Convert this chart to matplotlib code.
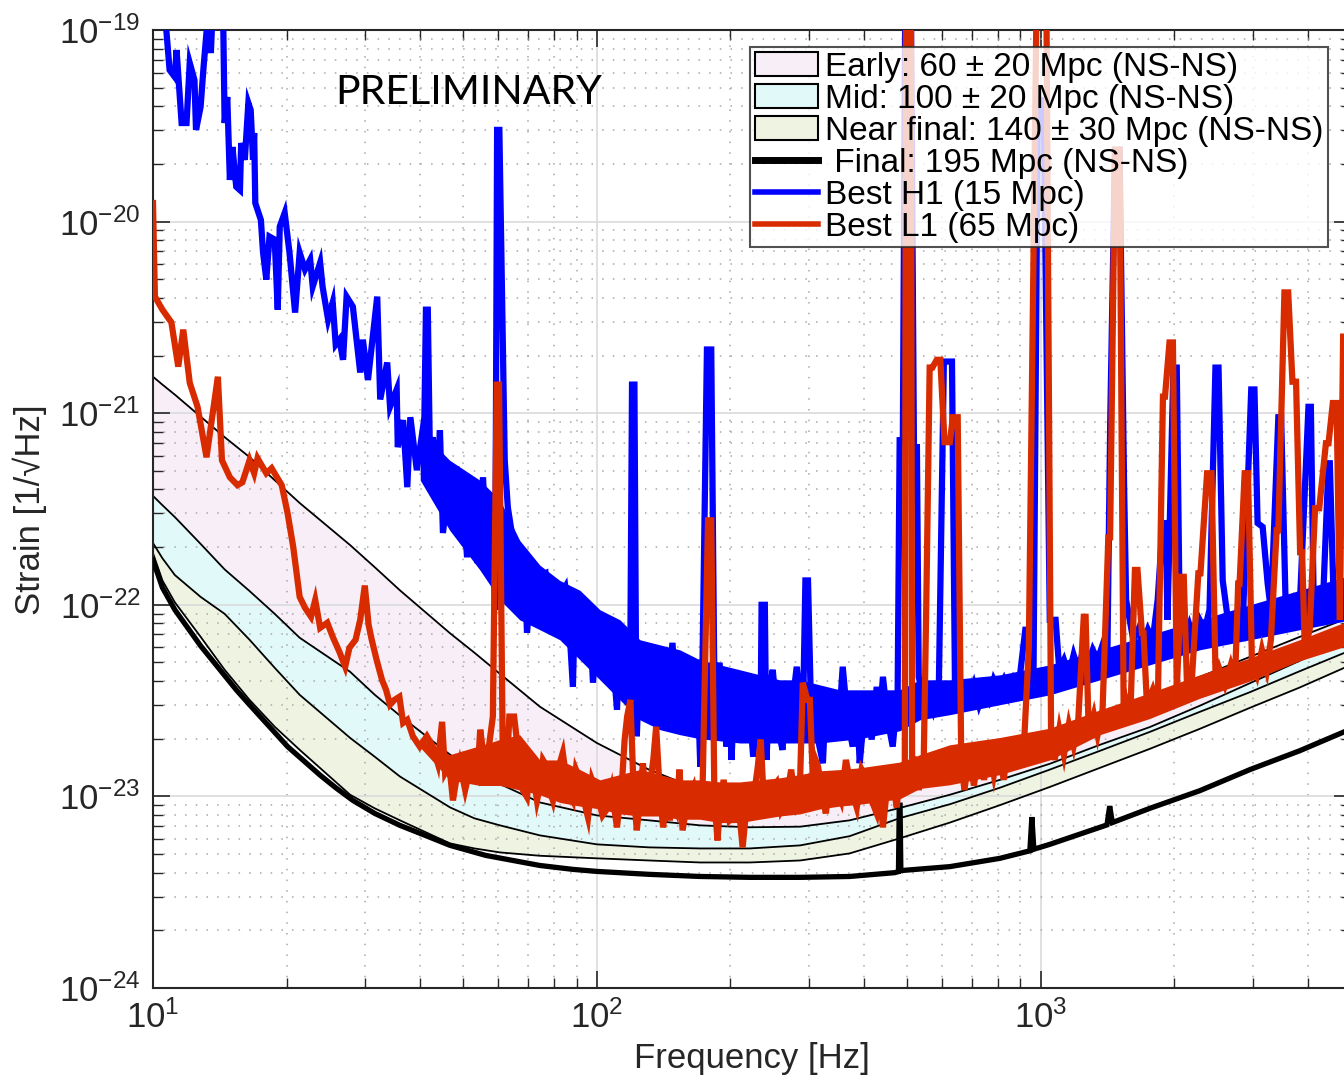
import numpy as np
import matplotlib
matplotlib.use('Agg')
import matplotlib.pyplot as plt
from matplotlib.patches import Patch
from matplotlib.lines import Line2D
from matplotlib.ticker import LogLocator, NullFormatter

plt.rcParams['font.family'] = ['Liberation Sans', 'DejaVu Sans']
plt.rcParams['mathtext.fontset'] = 'custom'
plt.rcParams['mathtext.rm'] = 'Liberation Sans'
plt.rcParams['mathtext.it'] = 'Liberation Sans:italic'
plt.rcParams['mathtext.bf'] = 'Liberation Sans:bold'

# ---- design range curves, strain in units of 1e-23 /rtHz ----
band_freq = [10, 10.5, 11.2, 12.8, 14.5, 16.5, 18.8, 21.4, 27.8, 31.6, 36.0, 46.7, 53.0, 60.5, 74.4,
             100, 131, 171, 221, 287, 371, 481, 624, 809, 1048, 1360, 1760, 2280, 2960, 3830, 5000]
early_top = [155, 141, 125, 96, 75, 59, 44.7, 34, 20.5, 15.7, 11.9, 7.1, 5.62, 4.36, 2.94,
             1.9, 1.38, 1.08, 0.95, 0.93, 0.98, 1.11, 1.31, 1.61, 2.0, 2.57, 3.3, 4.2, 5.35, 6.8, 8.66]
early_bot = [37, 33.1, 28.7, 20.8, 15.3, 11.8, 8.97, 6.73, 4.47, 3.39, 2.64, 1.65, 1.38, 1.16, 0.93,
             0.796, 0.75, 0.706, 0.69, 0.695, 0.75, 0.87, 1.02, 1.22, 1.48, 1.86, 2.3, 2.97, 3.9, 5.1, 6.81]
mid_bot = [21.0, 17.5, 14.3, 11.0, 8.97, 6.57, 4.69, 3.39, 2.02, 1.61, 1.27, 0.876, 0.768, 0.706, 0.626,
           0.562, 0.542, 0.535, 0.535, 0.555, 0.62, 0.77, 0.91, 1.11, 1.38, 1.73, 2.17, 2.76, 3.5, 4.5, 5.8]
near_bot = [18.6, 13.4, 10.3, 6.81, 4.58, 3.19, 2.31, 1.75, 1.02, 0.866, 0.75, 0.568, 0.535, 0.51, 0.49,
            0.475, 0.463, 0.452, 0.452, 0.463, 0.504, 0.604, 0.73, 0.90, 1.12, 1.41, 1.77, 2.25, 2.9, 3.7, 4.86]

final_freq = [10, 10.5, 11.2, 12.8, 15.4, 16.5, 20.1, 23.8, 25.8, 28.2, 31.6, 36.0, 40.0, 46.7, 56.2,
              74.4, 88.3, 100, 131, 171, 221, 287, 371, 469, 478, 480, 482, 484, 624, 809, 945, 955,
              965, 1048, 1360, 1410, 1430, 1450, 1760, 2280, 2960, 3830, 5000]
final_asd = [17.1, 12.3, 9.42, 6.11, 3.60, 3.01, 1.82, 1.29, 1.11, 0.953, 0.815, 0.706, 0.641, 0.555, 0.492,
             0.436, 0.416, 0.406, 0.392, 0.382, 0.378, 0.378, 0.382, 0.40, 0.405, 0.90, 0.90, 0.41, 0.43, 0.475,
             0.52, 0.78, 0.53, 0.562, 0.69, 0.71, 0.89, 0.73, 0.866, 1.07, 1.38, 1.73, 2.25]

# ---- best measured spectra (units of 1e-23 /rtHz) ----
h1_freq = [10.5, 10.7, 10.9, 11.2, 11.3, 11.6, 11.9, 12.1, 12.4, 12.5, 12.8, 13.0, 13.3, 13.5,
           13.6, 14.0, 14.4, 14.5, 14.7, 14.9, 15.1, 15.4, 15.7, 15.8, 16.1, 16.4, 16.6, 16.8,
           16.9, 17.0, 17.5, 17.7, 18.0, 18.3, 18.8, 19.1, 19.3, 19.8, 20.3, 20.9, 21.4, 22.0,
           22.6, 22.9, 23.8, 24.1, 24.8, 25.4, 25.8, 26.3, 26.8, 27.3, 28.2, 29.3, 29.7, 30.5,
           32.0, 32.5, 33.7, 34.2, 35.4, 35.6, 36.6, 37.4, 38.0, 39.3, 40.4, 40.8, 41.2, 41.6,
           42.1, 42.7, 43.6, 44.3, 45.0, 46.6, 48.4, 49.9, 51.0, 52.3, 53.8, 55.4, 56.6, 58.0,
           59.0, 59.6, 60.3, 62.0, 63.0, 64.7, 66.4, 67.0, 68.8, 69.6, 71.4, 73.8, 76.6, 77.8,
           79.6, 81.7, 84.9, 86.3, 88.3, 89.2, 91.6, 95.0, 96.4, 98.0, 100.5, 103, 106, 108,
           111, 112.5, 116, 119, 120, 121.5, 122.5, 123, 125, 128, 130, 131, 135, 138.5, 141,
           144.5, 148, 151, 153.5, 157.5, 165, 168, 171, 173, 177, 181, 184, 189, 193, 196,
           199, 201, 205, 209, 215, 218, 225, 231, 234, 235, 239, 241, 245, 249, 256, 262, 267,
           273, 282, 287, 291, 295, 299, 303, 310, 315, 323, 328, 340, 349, 358, 367, 377, 385,
           391, 399, 406, 416, 427, 434, 441, 452, 464, 476, 481, 489, 495, 510, 518, 526, 531,
           545, 559, 574, 589, 605, 631, 641, 656, 673, 690, 707, 726, 745, 764, 784, 804, 825,
           846, 868, 890, 923, 947, 963, 985, 1015, 1048, 1080, 1101, 1128, 1157, 1186, 1215,
           1246, 1277, 1310, 1343, 1378, 1413, 1434, 1470, 1505, 1541, 1557, 1616, 1657, 1700,
           1744, 1788, 1834, 1883, 1911, 1930, 1990, 2025, 2056, 2109, 2163, 2218, 2280, 2340,
           2400, 2475, 2515, 2570, 2640, 2707, 2780, 2851, 2980, 3030, 3080, 3162, 3245, 3300,
           3430, 3480, 3560, 3630, 3720, 3830, 4010, 4060, 4120, 4200, 4317, 4450, 4480, 4570,
           4740, 4900]
h1_asd = [11000, 10400, 6180, 5680, 7860, 3270, 3270, 6730, 5480, 3010, 3970, 6410, 12000, 7580,
          11300, 14000, 10400, 3270, 4470, 1650, 2450, 1520, 1460, 2570, 2100, 4160, 3820, 2100,
          2900, 1250, 1020, 689, 498, 835, 806, 347, 942, 1110, 689, 335, 689, 562,
          633, 458, 611, 458, 308, 378, 228, 242, 190, 406, 360, 163, 242, 149,
          406, 118, 184, 108, 133, 66.5, 92, 41.1, 95.3, 50.4, 78.6, 72.3, 347, 347,
          50.4, 75, 39.7, 81.5, 23.7, 48.6, 50.4, 36.4, 17.7, 41.1, 16.5, 46.3, 14.6, 30.1,
          9.42, 3010, 3010, 56.8, 32.3, 21.7, 18.6, 10.6, 15.2, 7.14, 14.6, 14.0, 14.6, 9.08,
          11.5, 10.6, 12.4, 9.08, 3.73, 9.42, 7.14, 9.08, 8.66, 3.92, 9.08, 7.14, 7.68, 6.33,
          2.83, 6.57, 7.14, 6.57, 141, 141, 5.16, 2.06, 5.35, 3.19, 6.04, 6.04, 3.19, 2.31, 5.62,
          3.19, 6.33, 3.19, 2.15, 4.06, 3.47, 5.16, 1.43, 5.16, 215, 215, 3.60, 4.98, 2.51, 1.82,
          3.60, 1.55, 4.06, 3.19, 2.23, 4.06, 1.61, 3.60, 3.19, 10.0, 10.0, 1.55, 3.60, 4.58, 2.23, 1.75, 3.60,
          2.51, 4.75, 3.19, 2.31, 13.4, 13.4, 3.60, 3.08, 1.98, 1.49, 3.19, 2.94, 1.98, 4.75, 2.51, 1.82, 3.19,
          1.49, 2.51, 3.19, 1.98, 3.73, 2.51, 4.21, 2.51, 1.82, 3.47, 72.3, 72.3, 12700, 12700, 66.5, 66.5, 4.21,
          3.19, 3.60, 2.83, 3.39, 186, 186, 3.60, 3.01, 3.60, 3.19, 3.82, 3.01, 3.60, 3.19, 4.06, 3.60, 4.06,
          3.39, 4.06, 3.60, 7.41, 7.41, 4.06, 4310, 4310, 8.35, 8.35, 4.58, 5.16, 4.31, 5.48, 4.58,
          5.82, 4.86, 5.82, 5.16, 6.18, 5.48, 92, 2370, 2370, 41.1, 10.6, 6.57, 7.41, 6.18,
          7.41, 6.57, 10.6, 26.7, 26.7, 8.35, 173, 173, 8.35, 6.57, 7.86, 6.57, 8.35, 7.41,
          9.42, 173, 173, 13.4, 8.35, 7.41, 9.42, 7.86, 133, 133, 26.7, 25.5, 12.9, 9.42,
          95.3, 95.3, 10.6, 8.87, 10.6, 9.42, 108, 108, 10.3, 10.6, 9.42, 54.8, 54.8, 10.6,
          11.9, 13.4]

l1_freq = [10.0, 10.1, 10.5, 11.0, 11.4, 11.7, 12.1, 12.6, 13.2, 14.0,
           14.3, 14.9, 15.5, 15.9, 16.5, 16.9, 17.2, 18.0, 18.5, 19.5,
           20.1, 20.7, 21.4, 22.0, 22.7, 23.2, 23.8, 24.7, 25.4, 26.3,
           27.1, 27.7, 28.6, 29.3, 30.0, 30.6, 31.1, 31.9, 32.8, 33.5,
           34.2, 35.0, 35.9, 36.6, 37.4, 38.5, 39.9, 41.4, 42.7, 43.8,
           44.8, 45.5, 46.5, 47.4, 48.4, 49.1, 50.5, 51.9, 53.8, 54.6,
           55.7, 56.6, 58.3, 59.5, 60.2, 61.4, 62.5, 63.5, 65.1, 66.8,
           68.1, 69.6, 70.7, 71.8, 73.3, 74.4, 75.6, 77.2, 78.3, 79.6,
           81.7, 83.8, 86.0, 88.3, 89.7, 91.6, 93.5, 95.5, 97.5, 100,
           103, 106, 108, 111, 114, 115.5, 117, 119, 121, 123,
           125, 127, 129.5, 131, 134, 136, 138.5, 141, 143.5, 146,
           148, 151, 153.5, 156, 160, 165, 168, 171, 173, 178,
           181, 184, 187, 189, 193, 196, 199, 202, 207, 213,
           218, 225, 230, 234, 237, 242, 247, 254, 260, 267,
           274, 282, 287, 291, 298, 302, 307, 311, 315, 324,
           328, 334, 346, 355, 364, 375, 385, 395, 406, 416,
           427, 434, 441, 450, 457, 467, 474, 481, 494, 497,
           510, 513, 523, 531, 545, 552, 562, 570, 583, 594,
           607, 624, 634, 650, 662, 673, 690, 707, 726, 745,
           764, 784, 804, 825, 846, 868, 890, 912, 940, 978,
           1030, 1055, 1075, 1101, 1128, 1157, 1186, 1215, 1250, 1262,
           1283, 1317, 1343, 1378, 1420, 1433, 1470, 1505, 1538, 1557,
           1592, 1630, 1652, 1690, 1704, 1735, 1788, 1835, 1885, 1905,
           1950, 1985, 2025, 2075, 2100, 2140, 2190, 2265, 2290, 2370,
           2425, 2480, 2530, 2600, 2680, 2740, 2785, 2805, 2880, 2930,
           2990, 3070, 3150, 3230, 3300, 3400, 3430, 3540, 3610, 3690,
           3760, 3840, 3880, 3935, 4035, 4150, 4240, 4390, 4450, 4550,
           4640, 4720, 4800, 4900]
l1_asd = [1250, 406, 347, 298, 175, 273, 144, 108, 58.9, 155,
          56.8, 46.3, 42.1, 43.6, 56.8, 48.6, 58.2, 48.6, 51.6, 42.1,
          30.1, 20.0, 11.0, 9.65, 8.66, 10.6, 7.58, 8.06, 6.81, 5.68,
          4.75, 5.96, 6.57, 8.35, 12.6, 7.86, 6.57, 5.16, 4.06, 3.60,
          3.01, 3.19, 3.31, 2.42, 2.51, 2.06, 1.82, 2.06, 1.82, 1.49,
          2.45, 1.33, 1.46, 0.953, 1.29, 1.49, 1.08, 1.43, 1.26, 2.23,
          1.55, 1.55, 2.61, 141, 141, 1.49, 1.22, 2.61, 2.61, 1.55,
          1.08, 0.99, 1.38, 1.33, 0.953, 1.12, 1.55, 1.43, 1.08, 0.953,
          1.38, 1.69, 1.08, 0.953, 1.38, 1.22, 0.953, 0.777, 1.22, 1.04,
          0.796, 0.876, 1.08, 0.689, 1.22, 1.98, 2.61, 3.19, 1.08, 0.665,
          0.953, 1.49, 0.796, 1.04, 1.55, 2.31, 1.08, 0.689, 0.953, 0.75,
          0.953, 0.845, 1.38, 0.665, 0.953, 1.12, 0.845, 0.815, 1.08, 27.6,
          27.6, 0.953, 0.589, 0.845, 1.22, 0.953, 0.75, 0.777, 1.08, 0.542,
          0.953, 0.953, 1.38, 1.98, 1.08, 0.777, 1.08, 1.18, 0.845, 0.953,
          1.38, 0.815, 1.22, 3.92, 3.19, 3.19, 1.12, 1.55, 1.43, 0.953,
          0.815, 1.22, 1.12, 0.953, 1.55, 1.08, 0.876, 1.38, 1.22, 0.953,
          0.815, 1.08, 0.689, 1.08, 1.43, 1.08, 0.876, 1.38, 1.5, 12700,
          12700, 1.6, 1.55, 1.08, 1.55, 9.42, 173, 173, 190, 190,
          70.6, 70.6, 95.3, 95.3, 1.55, 1.08, 1.65, 1.14, 1.75, 1.22,
          1.84, 1.30, 1.84, 1.22, 1.98, 1.38, 2.03, 1.46, 6.0, 12700,
          12700, 2.1, 1.55, 2.23, 1.65, 2.37, 1.84, 2.51, 8.66, 8.66,
          2.10, 2.67, 2.10, 2.83, 22.5, 22.5, 2370, 2370, 2.51, 3.19,
          2.67, 15.2, 15.2, 7.14, 7.14, 3.01, 3.60, 2.92, 122, 122,
          234, 234, 3.60, 14.0, 14.0, 3.19, 4.06, 14.6, 14.6, 48.6,
          48.6, 3.60, 4.58, 3.82, 4.86, 4.06, 12.9, 12.9, 48.6, 48.6,
          5.16, 4.31, 5.82, 4.58, 6.57, 24.5, 24.5, 427, 427, 146,
          146, 18.8, 18.8, 5.82, 7.41, 31.9, 31.9, 69.7, 69.7, 113,
          113, 8.35, 251, 251]

# spread of the dense spectra (upper / lower edge of the noise floor), 1e-23 /rtHz
env_freq = [40.0, 46.6, 54.5, 60.5, 67.0, 74.4, 82.5, 91.6, 101.6, 112.7, 125, 138.7, 153.8, 170.6,
            189.3, 210, 233, 258, 286.6, 318, 352.6, 391, 434, 481, 534, 624, 809, 1048, 1360,
            1760, 2280, 2960, 3830, 5000]
h1_env_hi = [81.5, 56.8, 44.7, 35.2, 21.7, 16.1, 13.4, 11.9, 9.42, 8.35, 6.57, 6.18, 5.82, 5.16,
             4.86, 4.58, 4.31, 4.06, 4.06, 3.82, 3.60, 3.60, 3.60, 3.60, 4.06, 4.06, 4.31, 4.86, 5.82,
             6.97, 8.35, 10.0, 11.9, 14.3]
h1_env_lo = [44.7, 24.5, 15.2, 10.6, 8.35, 7.41, 6.57, 5.16, 4.06, 3.19, 2.51, 2.23, 2.1, 2.0,
             1.95, 1.9, 1.9, 1.9, 1.9, 1.9, 1.95, 2.0, 2.1, 2.2, 2.51, 2.67, 3.01, 3.39, 4.06,
             4.86, 5.82, 6.57, 7.41, 8.35]
l1_env_hi = [2.0, 1.65, 1.84, 1.98, 2.10, 1.55, 1.55, 1.38, 1.22, 1.30, 1.38, 1.30, 1.22, 1.22,
             1.19, 1.19, 1.22, 1.25, 1.30, 1.36, 1.38, 1.41, 1.46, 1.51, 1.65, 1.86, 2.03, 2.27, 2.83,
             3.47, 4.31, 5.28, 6.57, 8.35]
l1_env_lo = [1.8, 1.22, 1.14, 1.14, 1.08, 1.02, 0.93, 0.89, 0.86, 0.81, 0.79, 0.79, 0.76, 0.76,
             0.73, 0.73, 0.76, 0.79, 0.81, 0.86, 0.89, 0.91, 0.94, 0.97, 1.1, 1.15, 1.3, 1.55, 2.1,
             2.55, 3.25, 4.0, 5.1, 6.2]

x_ticks = [10, 100, 1000]
y_ticks = [1e-24, 1e-23, 1e-22, 1e-21, 1e-20, 1e-19]
band_colors = ['#f7eef8', '#e2f9f9', '#eff4e2']
h1_color = '#0000ff'
l1_color = '#d82b00'
legend_labels = ['Early: 60 ± 20 Mpc (NS-NS)', 'Mid: 100 ± 20 Mpc (NS-NS)',
                 'Near final: 140 ± 30 Mpc (NS-NS)', ' Final: 195 Mpc (NS-NS)',
                 'Best H1 (15 Mpc)', 'Best L1 (65 Mpc)']

unit = 1e-23
bf = np.array(band_freq)
ef = np.array(env_freq)

fig = plt.figure(figsize=(13.44, 10.84), dpi=100)
ax = fig.add_axes([153 / 1344, 96 / 1084, 1198 / 1344, 958 / 1084])
ax.set_xscale('log')
ax.set_yscale('log')

ax.fill_between(bf, np.array(early_bot) * unit, np.array(early_top) * unit, color=band_colors[0], lw=0)
ax.fill_between(bf, np.array(mid_bot) * unit, np.array(early_bot) * unit, color=band_colors[1], lw=0)
ax.fill_between(bf, np.array(near_bot) * unit, np.array(mid_bot) * unit, color=band_colors[2], lw=0)
for c in [early_top, early_bot, mid_bot, near_bot]:
    ax.plot(bf, np.array(c) * unit, color='k', lw=1.3, zorder=2)
ax.plot(final_freq, np.array(final_asd) * unit, color='k', lw=3.8, zorder=3, solid_joinstyle='miter')

ax.fill_between(ef, np.array(h1_env_lo) * unit, np.array(h1_env_hi) * unit, color=h1_color, lw=0, zorder=4)
ax.plot(h1_freq, np.array(h1_asd) * unit, color=h1_color, lw=4.5, zorder=4, solid_joinstyle='miter')
ax.fill_between(ef, np.array(l1_env_lo) * unit, np.array(l1_env_hi) * unit, color=l1_color, lw=0, zorder=5)
ax.plot(l1_freq, np.array(l1_asd) * unit, color=l1_color, lw=4.5, zorder=5, solid_joinstyle='miter')

ax.set_xlim(10, 5000)
ax.set_ylim(1e-24, 1e-19)
ax.set_xticks(x_ticks)
ax.set_yticks(y_ticks)
ax.xaxis.set_minor_locator(LogLocator(base=10, subs=np.arange(2, 10), numticks=100))
ax.yaxis.set_minor_locator(LogLocator(base=10, subs=np.arange(2, 10), numticks=100))
ax.xaxis.set_minor_formatter(NullFormatter())
ax.yaxis.set_minor_formatter(NullFormatter())

ax.set_axisbelow('line')
ax.grid(which='major', color='#dadada', lw=1.2, ls='-')
ax.grid(which='minor', color='#a8a8a8', lw=1.1, ls=(0, (1, 6)))

ax.tick_params(which='both', direction='in', top=True, right=True, colors='#262626',
               labelsize=25, pad=9)
ax.tick_params(which='major', length=12, width=1.2)
ax.tick_params(which='minor', length=7, width=1.0)
for s in ax.spines.values():
    s.set_color('#262626')
    s.set_linewidth(1.5)

ax.set_xlabel('Frequency [Hz]', fontsize=25, color='#262626')
ax.xaxis.set_label_coords(0.5, -0.056)
fig.text(30 / 1344, 1 - 510 / 1084, 'Strain [1/√Hz]', rotation=90, ha='center', va='center',
         fontsize=25, color='#262626')

fig.text(469 / 1344, 1 - 92 / 1084, 'PRELIMINARY', ha='center', va='center',
         fontsize=29.5, family='Lato', color='k')

handles = [Patch(facecolor=band_colors[0], edgecolor='k', lw=1.5),
           Patch(facecolor=band_colors[1], edgecolor='k', lw=1.5),
           Patch(facecolor=band_colors[2], edgecolor='k', lw=1.5),
           Line2D([], [], color='k', lw=5),
           Line2D([], [], color=h1_color, lw=4),
           Line2D([], [], color=l1_color, lw=4)]
leg = ax.legend(handles, legend_labels, loc='upper right',
                bbox_to_anchor=(1328 / 1344, 1 - 47 / 1084), bbox_transform=fig.transFigure,
                fontsize=24, frameon=True, fancybox=False, borderaxespad=0,
                labelspacing=0.03, handlelength=1.9, handleheight=0.7, handletextpad=0.2,
                borderpad=0.14)
leg.get_frame().set_edgecolor('#262626')
leg.get_frame().set_linewidth(1.5)
leg.set_zorder(10)

fig.savefig('out.png', dpi=100)
